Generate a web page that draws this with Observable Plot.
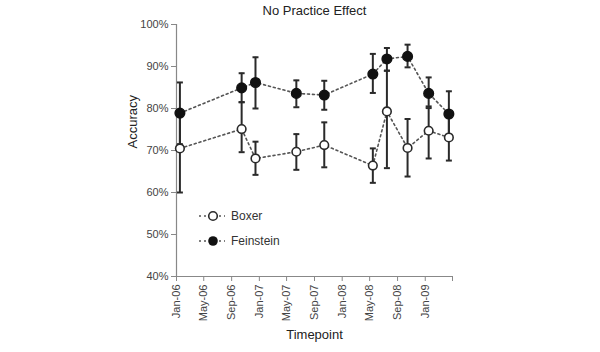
<!DOCTYPE html>
<html><head><meta charset="utf-8">
<script src="https://cdn.jsdelivr.net/npm/d3@7"></script>
<script src="https://cdn.jsdelivr.net/npm/@observablehq/plot@0.6"></script>
<style>body{margin:0;background:#fff;} #chart{width:600px;height:352px;}</style>
</head><body><div id="chart"></div>
<script>
const title = "No Practice Effect";
const xLabel = "Timepoint";
const yLabel = "Accuracy";
const seriesNames = ["Boxer", "Feinstein"];
const dates = ["2006-01-16","2006-10-15","2006-12-15","2007-06-13","2007-10-14","2008-05-15","2008-07-16","2008-10-15","2009-01-16","2009-04-15"];
const boxer     = [70.5, 75.1, 68.1, 69.7, 71.3, 66.4, 79.3, 70.6, 74.7, 73.1];
const boxerLow  = [60.0, 69.6, 64.2, 65.4, 66.0, 62.3, 65.8, 63.8, 68.1, 67.6];
const boxerHigh = [78.5, 81.5, 72.1, 73.9, 76.7, 70.5, 89.0, 77.5, 80.1, 78.6];
const feinstein = [78.9, 84.9, 86.2, 83.6, 83.2, 88.2, 91.8, 92.4, 83.6, 78.7];
const feinLow   = [71.5, 81.5, 80.0, 80.3, 79.7, 83.7, 89.0, 89.8, 80.5, 73.5];
const feinHigh  = [86.2, 88.4, 92.2, 86.7, 86.6, 93.0, 94.4, 95.2, 87.4, 84.1];
const yTicks = [40, 50, 60, 70, 80, 90, 100];
const xStart = "2006-01-01", xEnd = "2009-05-01";

const parse = d3.utcParse("%Y-%m-%d");
const rows = [];
dates.forEach((d, i) => {
  rows.push({series: seriesNames[0], date: parse(d), v: boxer[i], lo: boxerLow[i], hi: boxerHigh[i]});
  rows.push({series: seriesNames[1], date: parse(d), v: feinstein[i], lo: feinLow[i], hi: feinHigh[i]});
});
const x0 = parse(xStart), x1 = parse(xEnd);
const xTicks = d3.utcMonth.every(4).range(x0, new Date(+x1 + 1));
const fmt = d3.utcFormat("%b-%y");
const cap = {draw(ctx, size) { const r = Math.sqrt(size / Math.PI); ctx.moveTo(-r, 0); ctx.lineTo(r, 0); }};
const ink = "#2a2a2a";

const chart = Plot.plot({
  width: 600, height: 352,
  marginLeft: 176, marginRight: 148, marginTop: 24, marginBottom: 76,
  style: {fontFamily: "'Liberation Sans', Arial, sans-serif", fontSize: "11px", color: "#333", background: "#fff"},
  x: {type: "utc", domain: [x0, x1]},
  y: {domain: [40, 100]},
  marks: [
    Plot.ruleX([x0], {stroke: "#888", strokeWidth: 1.2}),
    Plot.ruleY([40], {stroke: "#888", strokeWidth: 1.2}),
    Plot.axisY({ticks: yTicks, tickFormat: d => d + "%", tickSize: 5, tickPadding: 3, stroke: "#888", fill: "#444", fontSize: 11, label: null}),
    Plot.axisX({ticks: xTicks, tickFormat: d => (+d === +xTicks[xTicks.length - 1] ? "" : fmt(d)), tickRotate: -90, tickSize: 5, tickPadding: 3, stroke: "#888", fill: "#444", fontSize: 11, label: null}),
    Plot.line(rows, {x: "date", y: "v", z: "series", stroke: "#555", strokeWidth: 1.6, strokeDasharray: "2,3"}),
    Plot.ruleX(rows, {x: "date", y1: "lo", y2: "hi", stroke: ink, strokeWidth: 2}),
    Plot.dot(rows, {x: "date", y: "lo", symbol: cap, r: 3, stroke: ink, strokeWidth: 2}),
    Plot.dot(rows, {x: "date", y: "hi", symbol: cap, r: 3, stroke: ink, strokeWidth: 2}),
    Plot.dot(rows.filter(d => d.series === seriesNames[0]), {x: "date", y: "v", r: 4.3, fill: "#fff", stroke: ink, strokeWidth: 1.6}),
    Plot.dot(rows.filter(d => d.series === seriesNames[1]), {x: "date", y: "v", r: 4.8, fill: "#111", stroke: "#111"}),
    Plot.text([title], {frameAnchor: "top", lineAnchor: "middle", dy: -14, fontSize: 13, fill: "#222"}),
    Plot.text([xLabel], {frameAnchor: "bottom", lineAnchor: "middle", dy: 58, fontSize: 13, fill: "#222"}),
    Plot.text([yLabel], {frameAnchor: "left", dx: -44, dy: -2, rotate: -90, fontSize: 13, fill: "#222"})
  ]
});
document.getElementById("chart").appendChild(chart);

// legend
const svg = d3.select(chart);
const lg = svg.append("g").attr("font-family", "'Liberation Sans', Arial, sans-serif").attr("font-size", 12).attr("text-anchor", "start");
seriesNames.forEach((name, i) => {
  const g = lg.append("g").attr("transform", `translate(199,${216 + i * 25})`);
  g.append("line").attr("x1", 0).attr("x2", 26).attr("stroke", "#555").attr("stroke-width", 1.6).attr("stroke-dasharray", "2,3");
  if (i === 0) g.append("circle").attr("cx", 14).attr("r", 4.3).attr("fill", "#fff").attr("stroke", ink).attr("stroke-width", 1.6);
  else g.append("circle").attr("cx", 14).attr("r", 4.8).attr("fill", "#111");
  g.append("text").attr("x", 32).attr("dy", "0.35em").attr("fill", "#333").text(name);
});
</script>
</body></html>
